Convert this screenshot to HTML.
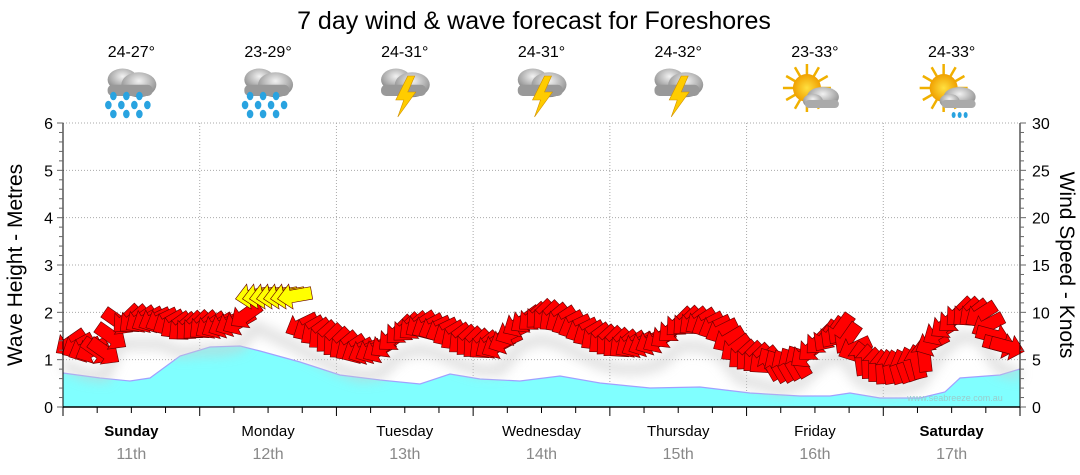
<!DOCTYPE html>
<html><head><meta charset="utf-8"><style>
html,body{margin:0;padding:0;background:#fff;width:1080px;height:475px;overflow:hidden}
svg{display:block;font-family:"Liberation Sans","DejaVu Sans",sans-serif}
</style></head><body>
<svg id="s" width="1080" height="475" xmlns="http://www.w3.org/2000/svg">
<defs>
<radialGradient id="cl" cx="50%" cy="35%" r="65%"><stop offset="0" stop-color="#f2f2f2"/><stop offset="1" stop-color="#858585"/></radialGradient>
<radialGradient id="sun" cx="50%" cy="50%" r="50%"><stop offset="0" stop-color="#ffe040"/><stop offset="1" stop-color="#f0a000"/></radialGradient>
<filter id="sh" x="-20%" y="-20%" width="140%" height="160%"><feGaussianBlur stdDeviation="6"/></filter>
</defs>
<text x="534" y="29" font-size="25" text-anchor="middle" fill="#000">7 day wind &amp; wave forecast for Foreshores</text>
<g id="grid"></g>
<g id="wave"></g>
<g id="arrows"></g>
<g id="axes"></g>
<g id="icons"></g>
<text x="955" y="401" font-size="9" fill="#9cc" text-anchor="middle">www.seabreeze.com.au</text>
<text transform="translate(22,265) rotate(-90)" font-size="21" text-anchor="middle">Wave Height - Metres</text>
<text transform="translate(1060,265) rotate(90)" font-size="21" text-anchor="middle">Wind Speed - Knots</text>
</svg>
<script>
const NS="http://www.w3.org/2000/svg";
function el(p,t,a,txt){const e=document.createElementNS(NS,t);for(const k in a)e.setAttribute(k,a[k]);if(txt!=null)e.textContent=txt;document.getElementById(p).appendChild(e);return e;}
const X0=63,X1=1020,Y0=407,YT=123,DW=(X1-X0)/7,PM=(Y0-YT)/6;
for(let k=1;k<=6;k++){let y=Y0-k*PM;el("grid","line",{x1:X0,x2:X1,y1:y,y2:y,stroke:"#aaa","stroke-dasharray":"1,2"});}
for(let k=1;k<7;k++){let x=X0+k*DW;el("grid","line",{x1:x,x2:x,y1:YT,y2:Y0,stroke:"#aaa","stroke-dasharray":"1,2"});}
const wv=[[63,373],[100,378],[130,381],[150,378],[180,356],[210,347],[240,346],[260,351],[300,362],[340,375],[380,380],[420,384],[450,374],[480,379],[520,381],[560,376],[600,383],[650,388],[700,387],[750,393],[800,396],[830,396],[850,393],[880,398],[920,398],[945,392],[960,378],[1000,375],[1020,369]];
let d="M63,407 "+wv.map(p=>"L"+p[0]+","+p[1]).join(" ")+" L1020,407 Z";
el("wave","path",{d:d,fill:"#80ffff"});
el("wave","path",{d:"M"+wv.map(p=>p[0]+","+p[1]).join(" L"),fill:"none",stroke:"#a0a0ff","stroke-width":1.2});
const tr=[[63,340],[85,350],[105,352],[120,320],[140,320],[160,320],[180,328],[200,326],[220,326],[240,322],[255,303],[280,315],[300,325],[320,335],[340,345],[360,352],[380,350],[400,330],[420,325],[440,330],[460,340],[480,346],[500,346],[520,322],[540,315],[560,320],[580,330],[600,340],[620,345],[640,345],[660,340],[680,322],[700,322],[720,330],[740,355],[760,360],[780,366],[800,360],[820,340],[840,330],[860,357],[880,366],[900,366],[920,360],[940,330],[960,312],[980,315],[1000,345],[1020,350]];
function yAt(x){for(let i=0;i<tr.length-1;i++){if(x<=tr[i+1][0]){let t=(x-tr[i][0])/(tr[i+1][0]-tr[i][0]);return tr[i][1]+t*(tr[i+1][1]-tr[i][1]);}}return tr[tr.length-1][1];}
el("arrows","path",{d:"M"+tr.map(p=>p[0]+","+(p[1]+24)).join(" L"),fill:"none",stroke:"#ccc","stroke-width":10,filter:"url(#sh)",opacity:0.7});
const shp="M-16,0 L-3,-12 L-3,-6 L17,-6 L17,6 L-3,6 L-3,12 Z";
for(let x=70;x<=1014;x+=7){
  let y=yAt(x);
  let ang=-35+10*Math.sin(x*0.09);
  if((x>95&&x<125)||(x>990)) ang=215+(x>990?-20:0);
  if(x>768&&x<800) ang=60;
  if(x>860&&x<925) ang=80+10*Math.sin(x);
  if(x>820&&x<850) ang=-55;
  let col="#ff0000";
  if(x>=250&&x<=295){col="#ffff00";y=296;ang=-10;}
  el("arrows","path",{d:shp,transform:`translate(${x},${y}) rotate(${ang}) scale(1.05)`,fill:col,stroke:"#600","stroke-width":0.6});
}
el("axes","line",{x1:X0,x2:X1,y1:Y0,y2:Y0,stroke:"#000","stroke-width":1.5});
el("axes","line",{x1:X0,x2:X0,y1:YT,y2:Y0,stroke:"#000"});
el("axes","line",{x1:X1,x2:X1,y1:YT,y2:Y0,stroke:"#000"});
for(let k=0;k<=30;k++){let y=Y0-k*PM/5;let big=k%5==0;
 el("axes","line",{x1:X0-(big?6:4),x2:X0,y1:y,y2:y,stroke:"#666"});
 el("axes","line",{x1:X1,x2:X1+(big?6:4),y1:y,y2:y,stroke:"#666"});
 if(big){el("axes","text",{x:X0-10,y:y+6,"font-size":16,"text-anchor":"end"},String(k/5));
  el("axes","text",{x:X1+12,y:y+6,"font-size":16},String(k));}}
for(let k=0;k<=28;k++){let x=X0+k*DW/4;el("axes","line",{x1:x,x2:x,y1:Y0,y2:Y0+(k%4==0?9:6),stroke:"#000"});}
const days=["Sunday","Monday","Tuesday","Wednesday","Thursday","Friday","Saturday"];
const temps=["24-27°","23-29°","24-31°","24-31°","24-32°","23-33°","24-33°"];
const ic=["rain","rain","storm","storm","storm","sun","sunrain"];
for(let i=0;i<7;i++){let cx=X0+DW*(i+0.5);
 el("axes","text",{x:cx,y:436,"font-size":15,"text-anchor":"middle","font-weight":(i==0||i==6)?"bold":"normal"},days[i]);
 el("axes","text",{x:cx,y:459,"font-size":16,"text-anchor":"middle",fill:"#888"},(11+i)+"th");
 el("icons","text",{x:cx,y:57,"font-size":16,"text-anchor":"middle"},temps[i]);
 drawIcon(cx,ic[i]);}
function cloud(cx,cy,s){
 el("icons","ellipse",{cx:cx-7*s,cy:cy-5*s,rx:12*s,ry:9*s,fill:"url(#cl)"});
 el("icons","ellipse",{cx:cx+6*s,cy:cy-1*s,rx:14*s,ry:10*s,fill:"url(#cl)"});
 el("icons","rect",{x:cx-19*s,y:cy-1*s,width:36*s,height:9*s,rx:4*s,fill:"#999"});}
function drawIcon(cx,t){
 if(t=="sun"||t=="sunrain"){
  let sx=cx-8,sy=88;
  for(let a=0;a<360;a+=30){let r=a*Math.PI/180;el("icons","line",{x1:sx+Math.cos(r)*12,y1:sy+Math.sin(r)*12,x2:sx+Math.cos(r)*24,y2:sy+Math.sin(r)*24,stroke:"#f0b000","stroke-width":2.5});}
  el("icons","circle",{cx:sx,cy:sy,r:14,fill:"url(#sun)"});
  el("icons","ellipse",{cx:cx+8,cy:97,rx:16,ry:10,fill:"url(#cl)"});
  el("icons","ellipse",{cx:cx-2,cy:101,rx:10,ry:7,fill:"url(#cl)"});
  el("icons","rect",{x:cx-10,y:100,width:34,height:8,rx:4,fill:"#aaa"});
  if(t=="sunrain"){for(let j=0;j<3;j++)el("icons","ellipse",{cx:cx+2+j*6,cy:115,rx:2,ry:3,fill:"#29a3e0"});}
  return;}
 cloud(cx,86,1.25);
 if(t=="rain"){for(let r=0;r<3;r++)for(let c=0;c<4;c++){if(r!=1&&c==3)continue;el("icons","ellipse",{cx:cx-22+c*13+(r==1?-1:4),cy:96+r*9,rx:3.3,ry:4.3,fill:"#29a3e0"});}}
 else{el("icons","path",{d:`M${cx+3},${76} L${cx-9},${100} L${cx-1},${100} L${cx-7},${117} L${cx+11},${92} L${cx+3},${92} L${cx+10},${76}Z`,fill:"#ffcc00",stroke:"#d09000","stroke-width":0.6});}
}
</script>
</body></html>
